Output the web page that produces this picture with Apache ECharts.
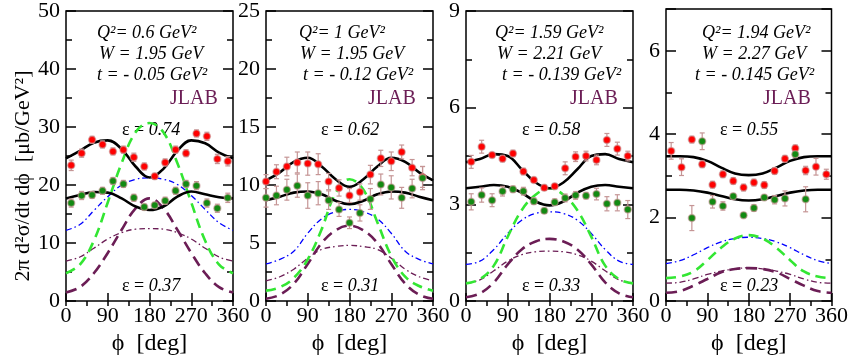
<!DOCTYPE html>
<html>
<head>
<meta charset="utf-8">
<script src="https://cdn.jsdelivr.net/npm/echarts@6/dist/echarts.min.js"></script>
<style>
  html, body { margin: 0; padding: 0; background: #fff; }
  #chart { width: 851px; height: 361px; }
</style>
</head>
<body>
<div id="chart"></div>
<script>
// ---- data ----
var phiCurve = [0, 30, 60, 90, 120, 150, 180, 210, 240, 270, 300, 330, 360];
var phiBins = [11.25, 33.75, 56.25, 78.75, 101.25, 123.75, 146.25, 168.75, 191.25, 213.75, 236.25, 258.75, 281.25, 303.75, 326.25, 348.75];
var phiBins2 = [0, 22.5, 45, 67.5, 90, 112.5, 135, 157.5, 180, 202.5, 225, 247.5, 270, 292.5, 315, 337.5];

var yMax = [50, 25, 9, 7];
var yStep = [10, 5, 3, 2];
var yMinorStep = [5, 2.5, 1.5, 1];

var q2Text = ['Q²= 0.6 GeV²', 'Q²= 1 GeV²', 'Q²= 1.59 GeV²', 'Q²= 1.94 GeV²'];
var wText = ['W = 1.95 GeV', 'W = 1.95 GeV', 'W = 2.21 GeV', 'W = 2.27 GeV'];
var tText = ['t = - 0.05 GeV²', 't = - 0.12 GeV²', 't = - 0.139 GeV²', 't = - 0.145 GeV²'];
var epsHigh = ['0.74', '0.62', '0.58', '0.55'];
var epsLow = ['0.37', '0.31', '0.33', '0.23'];

// model curves, sampled every 30 deg
var totHigh1 = [24.6, 25.9, 27.3, 27.7, 26.2, 23.2, 21.3, 22.8, 25.9, 27.7, 27.2, 25.6, 24.6];
var totLow1 = [17.7, 18.3, 18.8, 18.7, 17.7, 16.3, 15.7, 16.3, 18.0, 18.9, 18.4, 17.9, 17.7];
var green1 = [4.8, 6.3, 10.4, 17.0, 23.8, 29.1, 30.7, 29.1, 23.8, 17.0, 10.4, 6.3, 4.8];
var purple1 = [1.5, 2.4, 4.8, 8.3, 12.3, 16.0, 17.7, 16.0, 12.3, 8.3, 4.8, 2.4, 1.5];
var blue1 = [12.2, 13.2, 15.6, 18.0, 20.0, 21.0, 21.25, 21.0, 20.1, 18.2, 15.8, 13.5, 12.2];
var purpleDd1 = [6.9, 7.6, 9.1, 10.7, 11.8, 12.4, 12.5, 12.4, 11.8, 10.7, 9.1, 7.6, 6.9];

var totHigh2 = [10.4, 11.1, 12.0, 12.35, 11.6, 10.5, 9.85, 10.5, 11.6, 12.35, 12.0, 11.1, 10.4];
var totLow2 = [8.7, 9.0, 9.35, 9.45, 9.2, 8.65, 8.35, 8.65, 9.2, 9.45, 9.35, 9.0, 8.7];
var green2 = [0.9, 1.2, 2.0, 3.6, 6.2, 9.3, 10.5, 9.6, 6.8, 3.9, 2.1, 1.3, 0.9];
var purple2 = [0.2, 0.55, 1.5, 3.2, 5.0, 6.1, 6.5, 6.1, 5.0, 3.2, 1.5, 0.55, 0.2];
var blue2 = [3.2, 3.6, 4.3, 5.85, 7.1, 7.7, 7.9, 7.7, 7.1, 5.85, 4.3, 3.6, 3.2];
var purpleDd2 = [1.75, 2.1, 2.75, 3.7, 4.45, 4.7, 4.8, 4.7, 4.45, 3.7, 2.75, 2.1, 1.75];

var totHigh3 = [4.31, 4.41, 4.56, 4.5, 4.09, 3.68, 3.5, 3.68, 4.09, 4.5, 4.56, 4.41, 4.31];
var totLow3 = [3.5, 3.55, 3.6, 3.55, 3.36, 3.09, 2.97, 3.09, 3.36, 3.55, 3.6, 3.55, 3.5];
var green3 = [0.55, 0.68, 1.1, 2.0, 2.82, 3.3, 3.5, 3.3, 2.82, 2.0, 1.1, 0.68, 0.55];
var purple3 = [0.12, 0.24, 0.58, 1.14, 1.6, 1.85, 1.93, 1.85, 1.6, 1.14, 0.58, 0.24, 0.12];
var blue3 = [1.14, 1.24, 1.6, 2.1, 2.51, 2.72, 2.77, 2.72, 2.51, 2.1, 1.6, 1.24, 1.14];
var purpleDd3 = [0.55, 0.66, 0.94, 1.24, 1.44, 1.53, 1.55, 1.53, 1.44, 1.24, 0.94, 0.66, 0.55];

var totHigh4 = [3.47, 3.47, 3.45, 3.36, 3.2, 3.06, 3.02, 3.06, 3.2, 3.36, 3.45, 3.47, 3.47];
var totLow4 = [2.67, 2.67, 2.65, 2.6, 2.52, 2.44, 2.41, 2.44, 2.52, 2.6, 2.65, 2.67, 2.67];
var green4 = [0.55, 0.59, 0.71, 0.98, 1.28, 1.5, 1.58, 1.5, 1.28, 0.98, 0.71, 0.59, 0.55];
var purple4 = [0.2, 0.24, 0.37, 0.53, 0.69, 0.77, 0.79, 0.77, 0.69, 0.53, 0.37, 0.24, 0.2];
var blue4 = [0.9, 0.97, 1.11, 1.28, 1.42, 1.5, 1.53, 1.5, 1.42, 1.28, 1.11, 0.97, 0.9];
var purpleDd4 = [0.43, 0.45, 0.53, 0.64, 0.72, 0.77, 0.8, 0.77, 0.72, 0.64, 0.53, 0.45, 0.43];

// JLAB points (high eps = red, low eps = green) and their errors
var red1 = [23.4, 25.5, 27.8, 27.0, 25.8, 26.1, 24.8, 23.2, 21.5, 23.9, 26.1, 25.5, 28.9, 28.4, 24.5, 24.1];
var red1Err = [0.9, 0.7, 0.6, 0.6, 0.6, 0.6, 0.7, 0.6, 0.5, 0.6, 0.6, 0.6, 0.6, 0.7, 0.8, 0.8];
var green1Pts = [16.9, 18.2, 18.3, 19.0, 20.7, 20.2, 17.8, 16.2, 16.5, 17.3, 19.0, 20.2, 19.9, 16.9, 16.0, 17.8];
var green1Err = [0.7, 0.7, 0.6, 0.6, 0.6, 0.6, 0.6, 0.5, 0.5, 0.6, 0.6, 0.6, 0.7, 0.7, 0.7, 0.8];

var red2 = [10.3, 11.15, 11.6, 11.95, 11.85, 11.8, 10.3, 9.75, 9.1, 9.4, 10.9, 12.3, 12.05, 12.85, 11.5, 10.7];
var red2Err = [0.6, 0.6, 0.8, 0.9, 1.0, 0.9, 0.7, 0.7, 0.6, 0.7, 0.8, 0.7, 0.8, 0.6, 0.7, 0.9];
var green2Pts = [8.9, 9.1, 9.6, 9.95, 9.1, 9.3, 8.7, 7.9, 6.75, 7.6, 8.8, 10.05, 9.8, 8.9, 9.7, 10.6];
var green2Err = [0.8, 0.8, 0.9, 1.0, 1.1, 1.0, 0.8, 0.6, 0.5, 0.7, 0.9, 0.9, 1.0, 0.9, 0.8, 1.0];

var red3 = [4.32, 4.79, 4.53, 4.42, 4.58, 4.02, 3.76, 3.52, 3.56, 4.12, 4.48, 4.5, 4.38, 5.0, 4.73, 4.5];
var red3Err = [0.2, 0.2, 0.08, 0.1, 0.1, 0.1, 0.08, 0.08, 0.08, 0.2, 0.15, 0.15, 0.15, 0.2, 0.2, 0.15];
var green3Pts = [3.08, 3.29, 3.13, 3.41, 3.47, 3.41, 3.1, 2.8, 3.07, 3.2, 3.28, 3.27, 3.32, 3.02, 3.05, 2.84];
var green3Err = [0.25, 0.22, 0.2, 0.15, 0.1, 0.12, 0.1, 0.08, 0.1, 0.12, 0.12, 0.1, 0.18, 0.22, 0.25, 0.28];

var red4 = [3.6, 3.21, 3.87, 3.28, 2.79, 3.04, 2.88, 2.72, 2.84, 2.78, 3.12, 3.41, 3.66, 3.13, 3.22, 3.04];
var red4Err = [0.2, 0.2, 0.08, 0.08, 0.08, 0.08, 0.08, 0.08, 0.08, 0.08, 0.08, 0.08, 0.08, 0.1, 0.2, 0.12];
var green4Pts = [null, null, 1.99, 3.83, 2.38, 2.28, 2.51, 2.06, 2.23, 2.48, 2.43, 2.46, 3.52, 2.44, null, null];
var green4Err = [null, null, 0.3, 0.2, 0.15, 0.1, 0.06, 0.06, 0.08, 0.06, 0.1, 0.18, 0.08, 0.3, null, null];

// grouped per panel
var totHigh = [totHigh1, totHigh2, totHigh3, totHigh4];
var totLow = [totLow1, totLow2, totLow3, totLow4];
var greenDash = [green1, green2, green3, green4];
var purpleDash = [purple1, purple2, purple3, purple4];
var blueDashDot = [blue1, blue2, blue3, blue4];
var purpleDashDot = [purpleDd1, purpleDd2, purpleDd3, purpleDd4];
var redPts = [red1, red2, red3, red4];
var redErr = [red1Err, red2Err, red3Err, red4Err];
var greenPts = [green1Pts, green2Pts, green3Pts, green4Pts];
var greenErr = [green1Err, green2Err, green3Err, green4Err];
var pointPhi = [phiBins, phiBins2, phiBins, phiBins];

// ---- layout ----
var FONT = 'Liberation Serif';
var PURPLE = '#6b1d55';
var gridLeft = [66, 266, 466, 666];
var gridTop = 9, gridW = 167, gridH = 295;

var dom = document.getElementById('chart');
var myChart = echarts.init(dom, null, {renderer: 'canvas'});

function pairs(xs, ys) {
    var out = [];
    for (var k = 0; k < xs.length; k++) {
        if (ys[k] != null) out.push([xs[k], ys[k]]);
    }
    return out;
}

function triples(xs, ys, es) {
    var out = [];
    for (var k = 0; k < xs.length; k++) {
        if (ys[k] != null) out.push([xs[k], ys[k], es[k]]);
    }
    return out;
}

function errorBar(params, api) {
    var x = api.value(0), y = api.value(1), e = api.value(2);
    var top = api.coord([x, y + e]);
    var bot = api.coord([x, y - e]);
    var cap = 2.5;
    var st = {stroke: '#c59595', lineWidth: 1.2, fill: null};
    return {
        type: 'group',
        children: [
            {type: 'line', shape: {x1: top[0], y1: top[1], x2: bot[0], y2: bot[1]}, style: st},
            {type: 'line', shape: {x1: top[0] - cap, y1: top[1], x2: top[0] + cap, y2: top[1]}, style: st},
            {type: 'line', shape: {x1: bot[0] - cap, y1: bot[1], x2: bot[0] + cap, y2: bot[1]}, style: st}
        ]
    };
}

var grids = [], xAxes = [], yAxes = [], series = [], graphics = [];

for (var i = 0; i < 4; i++) {
    grids.push({
        left: gridLeft[i], top: gridTop, width: gridW, height: gridH,
        show: true, borderColor: '#000', borderWidth: 1.5, backgroundColor: 'transparent'
    });

    // x axes: major (labels) + minor ticks
    xAxes.push({
        gridIndex: i, type: 'value', min: 0, max: 360, interval: 90,
        axisLine: {show: false},
        axisTick: {inside: true, length: 8, lineStyle: {color: '#000', width: 1.5}},
        axisLabel: {fontFamily: FONT, fontSize: 22, color: '#000', margin: 4},
        splitLine: {show: false},
        name: 'ϕ  [deg]', nameLocation: 'middle', nameGap: 26,
        nameTextStyle: {fontFamily: FONT, fontSize: 24, color: '#000', verticalAlign: 'top'}
    });
    xAxes.push({
        gridIndex: i, type: 'value', min: 0, max: 360, interval: 45,
        axisLine: {show: false},
        axisTick: {inside: true, length: 5, lineStyle: {color: '#000', width: 1.5}},
        axisLabel: {show: false}, splitLine: {show: false}
    });

    // y axes: left major/minor, right major/minor
    (function (step) {
        ['left', 'right'].forEach(function (pos) {
            yAxes.push({
                gridIndex: i, type: 'value', position: pos, min: 0, max: yMax[i], interval: step,
                axisLine: {show: false},
                axisTick: {inside: true, length: 10, lineStyle: {color: '#000', width: 1.5}},
                axisLabel: {
                    show: pos === 'left', fontFamily: FONT, fontSize: 22, color: '#000', margin: 6,
                    formatter: function (v) {
                        return Math.abs(v / step - Math.round(v / step)) < 1e-6 ? String(v) : '';
                    }
                },
                splitLine: {show: false}
            });
            yAxes.push({
                gridIndex: i, type: 'value', position: pos, min: 0, max: yMax[i], interval: yMinorStep[i],
                axisLine: {show: false},
                axisTick: {inside: true, length: 6, lineStyle: {color: '#000', width: 1.5}},
                axisLabel: {show: false}, splitLine: {show: false}
            });
        });
    })(yStep[i]);

    var xi = 2 * i, yi = 4 * i;
    var curveDefs = [
        {d: purpleDashDot[i], c: PURPLE, w: 1.3, t: [6, 3, 1.5, 3]},
        {d: blueDashDot[i], c: '#0000ff', w: 1.3, t: [6, 3, 1.5, 3]},
        {d: purpleDash[i], c: PURPLE, w: 2.6, t: [11, 6]},
        {d: greenDash[i], c: '#33e633', w: 2.6, t: [10, 6]},
        {d: totLow[i], c: '#000', w: 2.6, t: 'solid'},
        {d: totHigh[i], c: '#000', w: 2.6, t: 'solid'}
    ];
    curveDefs.forEach(function (cd) {
        series.push({
            type: 'line', xAxisIndex: xi, yAxisIndex: yi,
            data: pairs(phiCurve, cd.d), smooth: 0.4, showSymbol: false, symbol: 'none',
            lineStyle: {color: cd.c, width: cd.w, type: cd.t}, silent: true, z: 2
        });
    });

    [[redPts[i], redErr[i], '#ff0000'], [greenPts[i], greenErr[i], '#128a12']].forEach(function (pp) {
        series.push({
            type: 'custom', xAxisIndex: xi, yAxisIndex: yi,
            data: triples(pointPhi[i], pp[0], pp[1]),
            encode: {x: 0, y: 1}, renderItem: errorBar, silent: true, z: 3
        });
        series.push({
            type: 'scatter', xAxisIndex: xi, yAxisIndex: yi,
            data: pairs(pointPhi[i], pp[0]), symbol: 'circle', symbolSize: 7,
            itemStyle: {color: pp[2], borderColor: 'rgba(200,150,150,0.55)', borderWidth: 1.5, opacity: 1},
            silent: true, z: 4
        });
    });
}

// text annotations inside the panels
var qX = [[97, 99, 97, 170, 122], [299, 300, 303, 368, 321], [495, 497, 502, 570, 522], [702, 702, 695, 763, 720]];
var it = {fontFamily: FONT, fontStyle: 'italic', fontSize: 18, fill: '#000'};
for (var j = 0; j < 4; j++) {
    var xs = qX[j];
    graphics.push({type: 'text', x: xs[0], y: 33, style: Object.assign({text: q2Text[j], verticalAlign: 'middle'}, it)});
    graphics.push({type: 'text', x: xs[1], y: 54, style: Object.assign({text: wText[j], verticalAlign: 'middle'}, it)});
    graphics.push({type: 'text', x: xs[2], y: 75, style: Object.assign({text: tText[j], verticalAlign: 'middle'}, it)});
    graphics.push({type: 'text', x: xs[3], y: 99, style: {
        text: 'JLAB', fontFamily: FONT, fontSize: 20, fill: PURPLE, verticalAlign: 'middle'
    }});
    [[epsHigh[j], 130], [epsLow[j], 286]].forEach(function (ev) {
        graphics.push({type: 'text', x: xs[4], y: ev[1], style: {
            text: '{u|ε = }{i|' + ev[0] + '}', verticalAlign: 'middle', fontFamily: FONT, fontSize: 18,
            rich: {
                u: {fontFamily: FONT, fontSize: 18, fill: '#000'},
                i: {fontFamily: FONT, fontSize: 18, fontStyle: 'italic', fill: '#000'}
            }
        }});
    });
}

// shared y title
graphics.push({
    type: 'text', x: 23, y: 176, rotation: Math.PI / 2,
    style: {
        text: '2π d²σ/dt dϕ  [μb/GeV²]', fontFamily: FONT, fontSize: 22, fill: '#000',
        align: 'center', verticalAlign: 'middle'
    }
});

option = {
    animation: false,
    backgroundColor: '#fff',
    grid: grids,
    xAxis: xAxes,
    yAxis: yAxes,
    series: series,
    graphic: graphics
};
myChart.setOption(option);
</script>
</body>
</html>
